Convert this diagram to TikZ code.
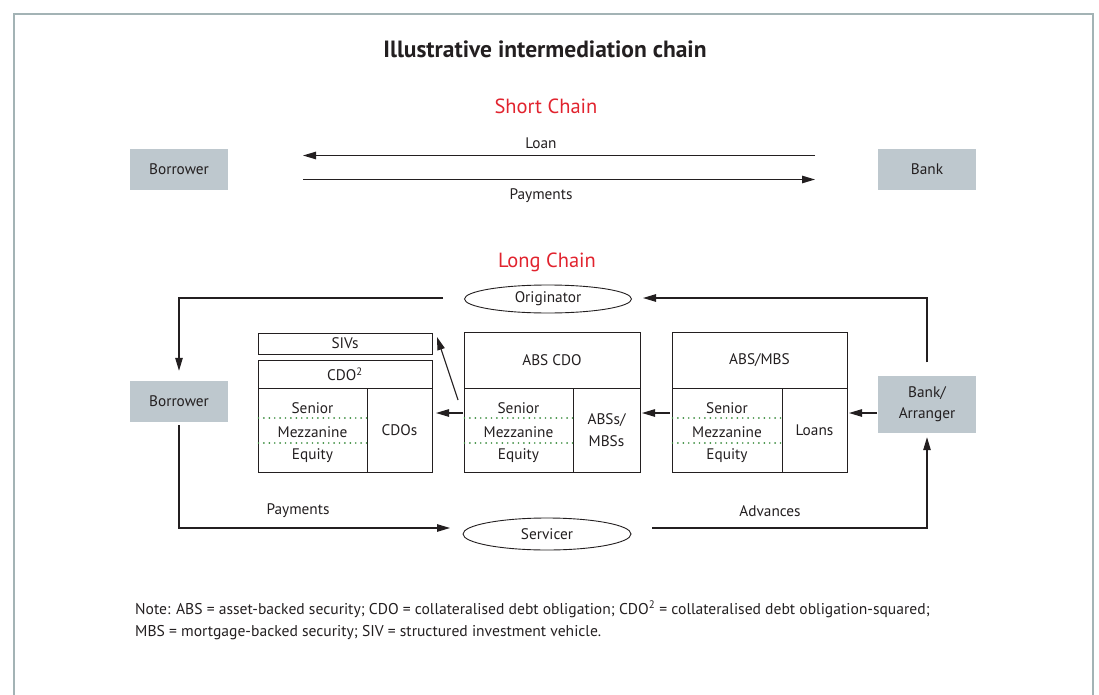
\documentclass[tikz,border=0pt]{standalone}
\usepackage{fontspec}
\setmainfont{PT Sans}
\usetikzlibrary{arrows.meta,shapes.geometric}
\definecolor{boxgray}{HTML}{BEC8CE}
\definecolor{chainred}{HTML}{E1232E}
\definecolor{dotgreen}{HTML}{3E8E41}
\definecolor{framegray}{HTML}{A3B3B5}
\definecolor{txt}{HTML}{231F20}
\begin{document}
\begin{tikzpicture}[x=1pt,y=-1pt,
  every node/.style={text=txt},
  font=\fontsize{15.3}{21.5}\selectfont,
  arr/.style={draw=txt, line width=1.1pt, -{Triangle[length=13pt,width=7.5pt]}},
  gbox/.style={fill=boxgray, minimum width=98pt, minimum height=41pt, inner sep=0pt, align=center},
  ell/.style={ellipse, draw=txt, line width=0.9pt, minimum width=167pt, minimum height=28pt, inner sep=0pt},
  cell/.style={draw=txt, line width=1pt, inner sep=0pt, align=center},
  dots/.style={draw=dotgreen, line width=1.9pt, dash pattern=on 0pt off 5.4pt, line cap=round},
  lbl/.style={inner sep=0pt}]

\useasboundingbox (0,0) rectangle (1099,695);
\draw[framegray, line width=1.6pt] (14,695) -- (14,14) -- (1093,14) -- (1093,695);

% titles
\node[lbl, font=\fontsize{23.5}{26}\selectfont\bfseries] (title) at (545,49) {Illustrative intermediation chain};
\node[lbl, text=chainred, font=\fontsize{20.5}{22}\selectfont] (short) at (546,106) {Short Chain};
\node[lbl, text=chainred, font=\fontsize{20.5}{22}\selectfont] (long) at (547,262) {Long Chain};

% short chain
\node[gbox] (bor1) at (179,169.5) {Borrower};
\node[gbox] (bank1) at (927,169.5) {Bank};
\coordinate (loanS) at (815,155.5);
\coordinate (loanE) at (303,155.5);
\coordinate (payS) at (303,179.5);
\coordinate (payE) at (815,179.5);
\draw[arr] (loanS) -- (loanE);
\draw[arr] (payS) -- (payE);
\node[lbl] (loanlbl) at (541,143) {Loan};
\node[lbl] (paylbl) at (541,196) {Payments};

% long chain
\node[ell] (orig) at (548,299) {Originator};
\node[ell, minimum width=168pt, minimum height=32pt] (serv) at (547,534) {Servicer};
\node[gbox] (bor2) at (179,401.5) {Borrower};
\node[gbox, minimum height=57pt] (bka) at (927,404) {Bank/\\Arranger};

% CDO^2 + SIVs
\node[cell, minimum width=174pt, minimum height=21pt] (siv) at (345,343.5) {SIVs};
\node[cell, minimum width=174pt, minimum height=28pt] (cdoH) at (345,374) {CDO\textsuperscript{2}};
\node[cell, minimum width=109pt, minimum height=84pt] (cdoL) at (312.5,430) {};
\node[cell, minimum width=65pt, minimum height=84pt] (cdoR) at (399.5,430) {CDOs};

% ABS CDO
\node[cell, minimum width=176pt, minimum height=56pt] (acH) at (552,360) {ABS CDO};
\node[cell, minimum width=109pt, minimum height=84pt] (acL) at (518.5,430) {};
\node[cell, minimum width=67pt, minimum height=84pt] (acR) at (606.5,430) {ABSs/\\MBSs};

% ABS/MBS
\node[cell, minimum width=175pt, minimum height=56pt] (amH) at (759.5,360) {ABS/MBS};
\node[cell, minimum width=110pt, minimum height=84pt] (amL) at (727,430) {};
\node[cell, minimum width=65pt, minimum height=84pt] (amR) at (814.5,430) {Loans};

% tranche labels and dotted separators
\foreach \n/\cx in {cdoL/312.5, acL/518.5, amL/727}{
  \node[lbl] (\n-s) at (\cx,408) {Senior};
  \node[lbl] (\n-m) at (\cx,432) {Mezzanine};
  \node[lbl] (\n-e) at (\cx,456) {Equity};
  \draw[dots] ([xshift=1pt]\n.west |- 0,418) -- (\n.east |- 0,418);
  \draw[dots] ([xshift=1pt]\n.west |- 0,443) -- (\n.east |- 0,443);
}

% flows between vehicles
\coordinate (a1s) at (877,413);  \coordinate (a1e) at (849,413);
\coordinate (a2s) at (670,413);  \coordinate (a2e) at (642,413);
\coordinate (a3s) at (463,413);  \coordinate (a3e) at (436,413);
\coordinate (a4s) at (458,400);  \coordinate (a4e) at (437,337);
\draw[arr] (a1s) -- (a1e);
\draw[arr] (a2s) -- (a2e);
\draw[arr] (a3s) -- (a3e);
\draw[arr] (a4s) -- (a4e);

% outer loop
\coordinate (oL) at (443,298);
\coordinate (oR) at (643,298);
\coordinate (pin) at (450,528);
\coordinate (pout) at (652,528);
\draw[arr] (oL) -| ([yshift=10pt]bor2.north);
\draw[arr] ([yshift=13pt]bka.north) |- (oR);
\draw[arr] ([yshift=-3pt]bor2.south) |- (pin);
\draw[arr] (pout) -| ([yshift=-4.5pt]bka.south);
\node[lbl] (paylbl2) at (298,511) {Payments};
\node[lbl] (advlbl) at (770,511) {Advances};

% note
\node[lbl, anchor=base west, font=\fontsize{15.6}{21.5}\selectfont] (note1) at (135,614) {Note: ABS = asset-backed security; CDO = collateralised debt obligation; CDO\textsuperscript{2} = collateralised debt obligation-squared;};
\node[lbl, anchor=base west, font=\fontsize{15.6}{21.5}\selectfont] (note2) at (135,636) {MBS = mortgage-backed security; SIV = structured investment vehicle.};
\end{tikzpicture}
\end{document}
